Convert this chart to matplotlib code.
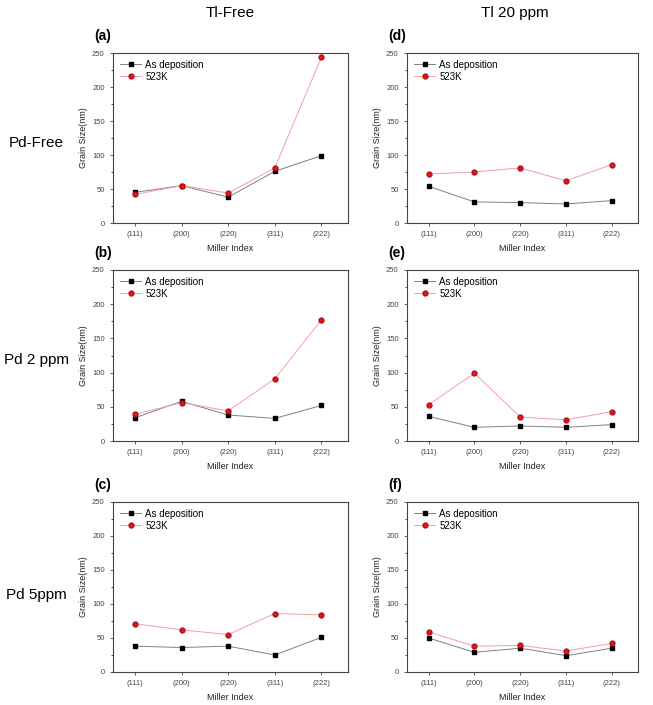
import matplotlib
matplotlib.use("Agg")
import matplotlib.pyplot as plt
from matplotlib.ticker import MultipleLocator

plt.rcParams["font.family"] = ["Liberation Sans", "DejaVu Sans"]

miller = ["(111)", "(200)", "(220)", "(311)", "(222)"]
col_titles = ["Tl-Free", "Tl 20 ppm"]
row_titles = ["Pd-Free", "Pd 2 ppm", "Pd 5ppm"]
panel_tags = [["(a)", "(d)"], ["(b)", "(e)"], ["(c)", "(f)"]]

# grain size (nm), rows = Pd level, cols = Tl level
as_dep = [
    [[45, 55, 38, 76, 99], [54, 31, 30, 28, 33]],
    [[34, 58, 38, 33, 52], [36, 20, 22, 20, 24]],
    [[38, 36, 38, 25, 51], [50, 29, 35, 24, 35]],
]
annealed = [
    [[42, 55, 44, 81, 244], [72, 75, 81, 62, 86]],
    [[39, 56, 44, 91, 177], [53, 99, 35, 31, 43]],
    [[71, 62, 55, 86, 84], [59, 38, 39, 31, 42]],
]

W, H = 653, 705
fig = plt.figure(figsize=(W / 100, H / 100), dpi=100)

lefts = [113, 407]
rights = [348, 638]
tops = [53, 270, 502]
bottoms = [223, 441, 672]

for r in range(3):
    for c in range(2):
        x0 = lefts[c] / W
        y0 = 1 - bottoms[r] / H
        ax = fig.add_axes([x0, y0, (rights[c] - lefts[c]) / W, (bottoms[r] - tops[r]) / H])
        xs = range(len(miller))
        ax.plot(xs, as_dep[r][c], "-s", color="#808080", lw=0.7,
                markerfacecolor="black", markeredgecolor="black", markersize=3,
                label="As deposition")
        ax.plot(xs, annealed[r][c], "-o", color="#f4a0a0", lw=0.7,
                markerfacecolor="#e8141c", markeredgecolor="#b01018", markersize=3.5,
                label="523K")
        ax.set_xlim(-0.47, 4.57)
        ax.set_ylim(0, 250)
        ax.set_xticks(list(xs))
        ax.set_xticklabels(miller)
        ax.yaxis.set_major_locator(MultipleLocator(50))
        ax.yaxis.set_minor_locator(MultipleLocator(25))
        ax.tick_params(labelsize=5.5, length=2.5, width=0.6, colors="#444444")
        ax.tick_params(which="minor", length=1.5, width=0.5)
        for s in ax.spines.values():
            s.set_linewidth(0.8)
            s.set_color("#444444")
        ax.set_xlabel("Miller Index", fontsize=6.5, labelpad=4, color="#222222")
        ax.set_ylabel("Grain Size(nm)", fontsize=6.5, labelpad=3, color="#222222")
        ax.legend(loc="upper left", frameon=False, fontsize=7, handlelength=2.2,
                  handletextpad=0.4, borderaxespad=0.3, labelspacing=0.2)
        ax.text(-0.08, 1.06, panel_tags[r][c], transform=ax.transAxes,
                fontsize=10, fontweight="bold", va="bottom", ha="left")

fig.text(230 / W, 1 - 13 / H, col_titles[0], fontsize=11, ha="center", va="center")
fig.text(515 / W, 1 - 13 / H, col_titles[1], fontsize=11, ha="center", va="center")
for r, y in enumerate([143, 360, 595]):
    fig.text(36 / W, 1 - y / H, row_titles[r], fontsize=11, ha="center", va="center")

fig.savefig("out.png", dpi=100)
